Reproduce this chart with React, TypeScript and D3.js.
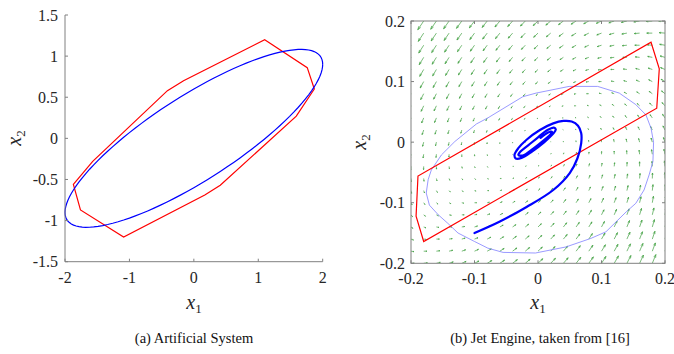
import React from "react";
import * as d3 from "d3";

type Pt = [number, number];

// ---- (a) Artificial System ----
const leftXTicks = [-2, -1, 0, 1, 2];
const leftYTicks = [-1.5, -1, -0.5, 0, 0.5, 1, 1.5];

// red polytope (vertices)
const leftPolytope: Pt[] = [
  [1.1, 1.2], [1.76, 0.86], [1.87, 0.6], [1.59, 0.27], [0.41, -0.57], [0.17, -0.69],
  [-1.09, -1.2], [-1.76, -0.87], [-1.87, -0.56], [-1.57, -0.28], [-0.41, 0.58], [-0.16, 0.7],
];

// blue ellipse {x : x' E^-1 x <= 1}, E = L L'
const ellipseChol = [
  [2.0, 0.0],
  [0.9, 0.6],
];

// ---- (b) Jet Engine ----
const rightTicks = [-0.2, -0.1, 0, 0.1, 0.2];

const jetPolytope: Pt[] = [
  [0.178, 0.165], [0.191, 0.121], [0.187, 0.056],
  [-0.18, -0.164], [-0.192, -0.122], [-0.189, -0.056],
];

// thin light blue level set
const jetRegion: Pt[] = [
  [-0.131, 0.001], [-0.097, 0.03], [-0.079, 0.04], [-0.024, 0.075], [-0.003, 0.081],
  [0.049, 0.092], [0.094, 0.092], [0.128, 0.081], [0.154, 0.062], [0.17, 0.045],
  [0.178, 0.023], [0.182, 0.0], [0.181, -0.032], [0.175, -0.054], [0.167, -0.079],
  [0.154, -0.101], [0.139, -0.115], [0.107, -0.148], [0.083, -0.159], [0.044, -0.173],
  [-0.004, -0.183], [-0.055, -0.182], [-0.079, -0.175], [-0.1, -0.164], [-0.126, -0.15],
  [-0.142, -0.134], [-0.157, -0.12], [-0.171, -0.104], [-0.176, -0.084], [-0.173, -0.062],
  [-0.168, -0.046], [-0.152, -0.021],
];

// thick blue trajectory
const jetTrajectory: Pt[] = [
  [-0.1, -0.15], [-0.06, -0.131], [-0.018, -0.107], [0.024, -0.079], [0.05, -0.051],
  [0.062, -0.027], [0.068, -0.002], [0.068, 0.015], [0.063, 0.027], [0.053, 0.034],
  [0.04, 0.035], [0.024, 0.031], [0.003, 0.02], [-0.018, 0.004], [-0.031, -0.01],
  [-0.037, -0.021], [-0.035, -0.027], [-0.026, -0.026], [-0.01, -0.016], [0.01, 0.0],
  [0.024, 0.014], [0.028, 0.021], [0.025, 0.024], [0.015, 0.02], [0.0, 0.008],
  [-0.015, -0.005], [-0.028, -0.016], [-0.031, -0.021], [-0.024, -0.022], [-0.008, -0.011],
  [0.01, 0.004], [0.02, 0.013], [0.022, 0.017], [0.016, 0.016], [0.004, 0.007],
];

// quiver grid and drift coefficients (fitted to the arrows in the plot)
const quiverGrid = [
  -0.2, -0.18, -0.16, -0.14, -0.12, -0.1, -0.08, -0.06, -0.04, -0.02, 0,
  0.02, 0.04, 0.06, 0.08, 0.1, 0.12, 0.14, 0.16, 0.18, 0.2,
];
const drift = { a12: -1, a11sq: -1.5, a11cu: -0.5, a21: 1, a22: -1 };

const FONT = "Liberation Serif";
const AX = "#262626";

const f = (x1: number, x2: number): Pt => [
  drift.a12 * x2 + drift.a11sq * x1 * x1 + drift.a11cu * x1 * x1 * x1,
  drift.a21 * x1 + drift.a22 * x2,
];

const MathLabel = ({ x, y, sub, rotate }: { x: number; y: number; sub: string; rotate?: boolean }) => (
  <text
    transform={`translate(${x},${y})${rotate ? " rotate(-90)" : ""}`}
    textAnchor="middle"
    fontFamily={FONT}
    fontSize={20}
    fill={AX}
  >
    <tspan fontStyle="italic">x</tspan>
    <tspan fontSize={13} dy={4}>{sub}</tspan>
  </text>
);

export default function App() {
  // left scales
  const xL = d3.scaleLinear().domain([-2, 2]).range([65, 322.7]);
  const yL = d3.scaleLinear().domain([-1.5, 1.5]).range([261.7, 15]);
  // right scales
  const xR = d3.scaleLinear().domain([-0.2, 0.2]).range([411, 665]);
  const yR = d3.scaleLinear().domain([-0.2, 0.2]).range([263.3, 21]);

  const lineL = d3.line<Pt>().x((d) => xL(d[0])).y((d) => yL(d[1]));
  const polyL = d3.line<Pt>().x((d) => xL(d[0])).y((d) => yL(d[1])).curve(d3.curveLinearClosed);
  const polyR = d3.line<Pt>().x((d) => xR(d[0])).y((d) => yR(d[1])).curve(d3.curveLinearClosed);
  const trajR = d3.line<Pt>().x((d) => xR(d[0])).y((d) => yR(d[1])).curve(d3.curveCatmullRom.alpha(0.5));

  const ellipsePts: Pt[] = d3.range(0, 361, 3).map((deg) => {
    const t = (deg * Math.PI) / 180;
    const c = Math.cos(t), s = Math.sin(t);
    return [ellipseChol[0][0] * c + ellipseChol[0][1] * s, ellipseChol[1][0] * c + ellipseChol[1][1] * s];
  });

  // quiver with MATLAB-style autoscale
  const step = 0.02;
  const vecs: { x: number; y: number; u: number; v: number }[] = [];
  quiverGrid.forEach((gx) => quiverGrid.forEach((gy) => {
    const [u, v] = f(gx, gy);
    vecs.push({ x: gx, y: gy, u, v });
  }));
  const maxLen = d3.max(vecs, (d) => Math.hypot(d.u / step, d.v / step)) || 1;
  const sc = 0.9 / maxLen;
  const arrows = vecs.map((d, i) => {
    const u = d.u * sc, v = d.v * sc;
    const x0 = xR(d.x), y0 = yR(d.y);
    const x1 = xR(d.x + u), y1 = yR(d.y + v);
    const dx = x1 - x0, dy = y1 - y0;
    const hx = x1 - 0.33 * (dx + 0.33 * dy), hy = y1 - 0.33 * (dy - 0.33 * dx);
    const gx = x1 - 0.33 * (dx - 0.33 * dy), gy = y1 - 0.33 * (dy + 0.33 * dx);
    return (
      <path key={i} d={`M${x0},${y0}L${x1},${y1}M${hx},${hy}L${x1},${y1}L${gx},${gy}`} />
    );
  });

  const tick = 3;

  return (
    <svg width={674} height={354} style={{ position: "absolute", left: 0, top: 0, background: "#fff" }}>
      <defs>
        <clipPath id="clipR">
          <rect x={411} y={21} width={254} height={242.3} />
        </clipPath>
      </defs>

      {/* ---- left panel ---- */}
      <g>
        <path d={polyL(leftPolytope)!} fill="none" stroke="#ff0000" strokeWidth={1.2} />
        <path d={lineL(ellipsePts)!} fill="none" stroke="#0000ff" strokeWidth={1.2} />
        <g stroke="#808080" strokeWidth={1} fill="none">
          <line x1={65} x2={65} y1={15} y2={261.7} />
          <line x1={65} x2={322.7} y1={261.7} y2={261.7} />
          {leftYTicks.map((t) => (
            <line key={t} x1={65} x2={65 + tick} y1={yL(t)} y2={yL(t)} />
          ))}
          {leftXTicks.map((t) => (
            <line key={t} x1={xL(t)} x2={xL(t)} y1={261.7} y2={261.7 - tick} />
          ))}
        </g>
        <g fontFamily={FONT} fontSize={16} fill={AX}>
          {leftYTicks.map((t) => (
            <text key={t} x={58} y={yL(t)} dy="0.35em" textAnchor="end">{String(t)}</text>
          ))}
          {leftXTicks.map((t) => (
            <text key={t} x={xL(t)} y={283} textAnchor="middle">{String(t)}</text>
          ))}
        </g>
        <MathLabel x={194} y={309} sub="1" />
        <MathLabel x={21} y={138} sub="2" rotate />
        <text x={194} y={343} textAnchor="middle" fontFamily={FONT} fontSize={14.5} fill="#111">
          (a) Artificial System
        </text>
      </g>

      {/* ---- right panel ---- */}
      <g>
        <g clipPath="url(#clipR)">
          <g stroke="#1f8f1f" strokeWidth={0.7} fill="none" opacity={0.85}>
            {arrows}
          </g>
          <path d={polyR(jetRegion)!} fill="none" stroke="#8080ff" strokeWidth={0.8} />
          <path d={polyR(jetPolytope)!} fill="none" stroke="#ff0000" strokeWidth={1.2} />
          <path d={trajR(jetTrajectory)!} fill="none" stroke="#0000ff" strokeWidth={2.2} strokeLinejoin="round" strokeLinecap="round" />
        </g>
        <g stroke="#808080" strokeWidth={1} fill="none">
          <rect x={411} y={21} width={254} height={242.3} />
          {rightTicks.map((t) => (
            <g key={t}>
              <line x1={411} x2={411 + tick} y1={yR(t)} y2={yR(t)} />
              <line x1={665} x2={665 - tick} y1={yR(t)} y2={yR(t)} />
              <line x1={xR(t)} x2={xR(t)} y1={263.3} y2={263.3 - tick} />
              <line x1={xR(t)} x2={xR(t)} y1={21} y2={21 + tick} />
            </g>
          ))}
        </g>
        <g fontFamily={FONT} fontSize={16} fill={AX}>
          {rightTicks.map((t) => (
            <text key={t} x={405} y={yR(t)} dy="0.35em" textAnchor="end">{String(t)}</text>
          ))}
          {rightTicks.map((t) => (
            <text key={t} x={xR(t)} y={284} textAnchor="middle">{String(t)}</text>
          ))}
        </g>
        <MathLabel x={538} y={309} sub="1" />
        <MathLabel x={366} y={142} sub="2" rotate />
        <text x={540} y={343} textAnchor="middle" fontFamily={FONT} fontSize={14.5} fill="#111">
          (b) Jet Engine, taken from [16]
        </text>
      </g>
    </svg>
  );
}
